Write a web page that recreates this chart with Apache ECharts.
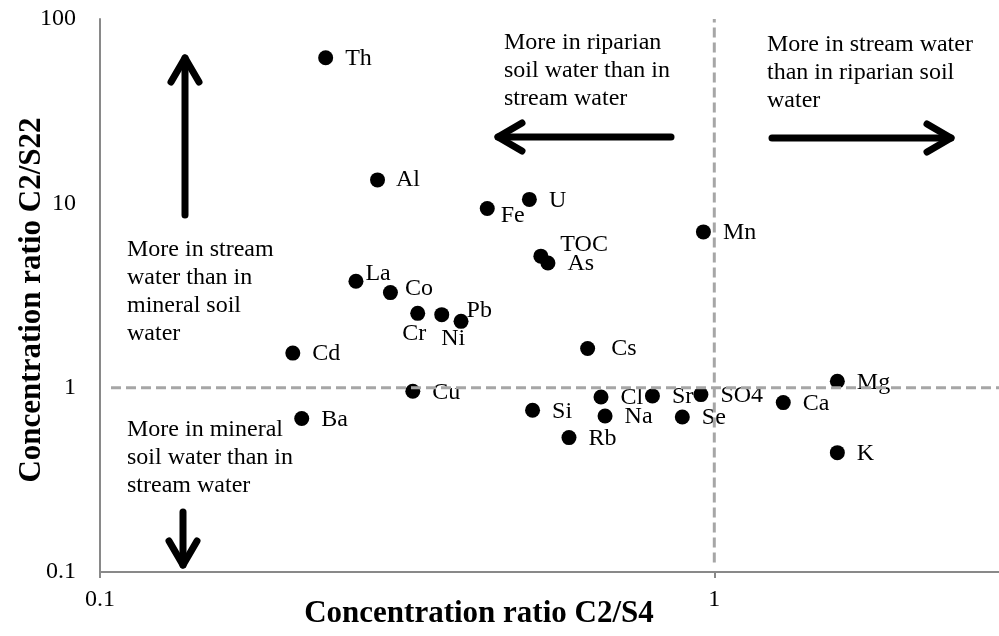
<!DOCTYPE html>
<html>
<head>
<meta charset="utf-8">
<script src="https://cdn.jsdelivr.net/npm/echarts@6/dist/echarts.min.js"></script>
<style>
    html, body { margin: 0; padding: 0; background: #fff; }
    #mychart { width: 999px; height: 636px; }
</style>
</head>
<body>
<div id="mychart"></div>
<script>
    // elements and their concentration ratios
    var elements   = ['Th', 'Al', 'Fe', 'U', 'TOC', 'As', 'La', 'Co', 'Cr', 'Ni', 'Pb', 'Cd', 'Cs', 'Cu', 'Ba', 'Si', 'Cl', 'Na', 'Rb', 'Sr', 'SO4', 'Se', 'Ca', 'Mg', 'K', 'Mn'];
    var ratioC2S4  = [0.233, 0.283, 0.427, 0.500, 0.522, 0.536, 0.261, 0.297, 0.329, 0.360, 0.387, 0.206, 0.622, 0.323, 0.213, 0.506, 0.654, 0.664, 0.580, 0.793, 0.951, 0.887, 1.295, 1.586, 1.586, 0.960];
    var ratioC2S22 = [61.6, 13.4, 9.38, 10.5, 5.17, 4.75, 3.78, 3.28, 2.53, 2.49, 2.29, 1.54, 1.63, 0.956, 0.680, 0.754, 0.890, 0.702, 0.536, 0.902, 0.917, 0.693, 0.830, 1.083, 0.444, 7.00];
    var xTicks = [0.1, 1, 10];
    var yTicks = [0.1, 1, 10, 100];
    // dashed reference lines at ratio = 1
    var hRef = [[0.1042, 1], [10, 1]];
    var vRef = [[1, 0.1127], [1, 100]];

    // labels that were nudged away from the default right-hand spot
    var labelShift = {
        Al: [-1, 0], Fe: [-6, 7], TOC: [0, -11], La: [-10, -8], Co: [-5, -4],
        Cr: [-35, 20], Ni: [-20, 24], Pb: [-14, -11], Cs: [4, 0]
    };

    var serif = '"Liberation Serif", "Times New Roman", serif';
    var axisGrey = '#898989';
    var refGrey = '#a6a6a6';

    var points = [];
    for (let i = 0; i < elements.length; i++) {
        points.push({
            name: elements[i],
            value: [ratioC2S4[i], ratioC2S22[i]],
            label: { offset: labelShift[elements[i]] || [0, 1] }
        });
    }

    function arrow(pts) {
        return {
            type: 'polyline',
            shape: { points: pts },
            style: { stroke: '#000', lineWidth: 7, lineCap: 'round', lineJoin: 'round', fill: null },
            z: 10
        };
    }
    function note(x, y, txt) {
        return {
            type: 'text', x: x, y: y, z: 10,
            style: { text: txt, font: '24px ' + serif, fill: '#000', lineHeight: 28, textVerticalAlign: 'top' }
        };
    }

    var mychart = echarts.init(document.getElementById('mychart'));
    var option = {
        animation: false,
        backgroundColor: '#fff',
        grid: { left: 100, top: 19, bottom: 64, right: -329.6, outerBoundsMode: 'none', containLabel: false },
        xAxis: {
            type: 'log',
            logBase: 10,
            min: xTicks[0],
            max: xTicks[xTicks.length - 1],
            axisLine: { lineStyle: { color: axisGrey, width: 2 } },
            axisTick: { show: true, length: 6, lineStyle: { color: axisGrey, width: 2 } },
            axisLabel: { fontFamily: serif, fontSize: 24, color: '#000', margin: 16 },
            splitLine: { show: false }
        },
        yAxis: {
            type: 'log',
            logBase: 10,
            min: yTicks[0],
            max: yTicks[yTicks.length - 1],
            axisLine: { show: true, lineStyle: { color: axisGrey, width: 2 } },
            axisTick: { show: false },
            axisLabel: { fontFamily: serif, fontSize: 24, color: '#000', margin: 24 },
            splitLine: { show: false }
        },
        series: [
            {
                type: 'scatter',
                symbol: 'circle',
                symbolSize: 15,
                itemStyle: { color: '#000', opacity: 1 },
                label: {
                    show: true,
                    position: 'right',
                    distance: 12,
                    formatter: '{b}',
                    fontFamily: serif,
                    fontSize: 24,
                    color: '#000'
                },
                data: points,
                z: 2
            },
            {
                type: 'line', data: hRef, showSymbol: false, silent: true, z: 3,
                lineStyle: { color: refGrey, width: 3, type: [10, 5], opacity: 1 }
            },
            {
                type: 'line', data: vRef, showSymbol: false, silent: true, z: 3,
                lineStyle: { color: refGrey, width: 3, type: [10, 5], opacity: 1 }
            }
        ],
        graphic: [
            note(504, 29, 'More in riparian\nsoil water than in\nstream water'),
            note(767, 31, 'More in stream water\nthan in riparian soil\nwater'),
            note(127, 236, 'More in stream\nwater than in\nmineral soil\nwater'),
            note(127, 416, 'More in mineral\nsoil water than in\nstream water'),
            arrow([[671, 137], [498, 137]]),
            arrow([[522, 123], [498, 137], [522, 151]]),
            arrow([[772, 138], [951, 138]]),
            arrow([[927, 124], [951, 138], [927, 152]]),
            arrow([[185, 215], [185, 58]]),
            arrow([[171, 82], [185, 58], [199, 82]]),
            arrow([[183, 512], [183, 565]]),
            arrow([[169, 541], [183, 565], [197, 541]]),
            {
                type: 'text', x: 479, y: 614, z: 10,
                style: { text: 'Concentration ratio C2/S4', font: 'bold 31px ' + serif, fill: '#000', textAlign: 'center', textVerticalAlign: 'middle' }
            },
            {
                type: 'text', x: 32, y: 300, rotation: Math.PI / 2, z: 10,
                style: { text: 'Concentration ratio C2/S22', font: 'bold 31px ' + serif, fill: '#000', textAlign: 'center', textVerticalAlign: 'middle' }
            }
        ]
    };
    mychart.setOption(option);
</script>
</body>
</html>
